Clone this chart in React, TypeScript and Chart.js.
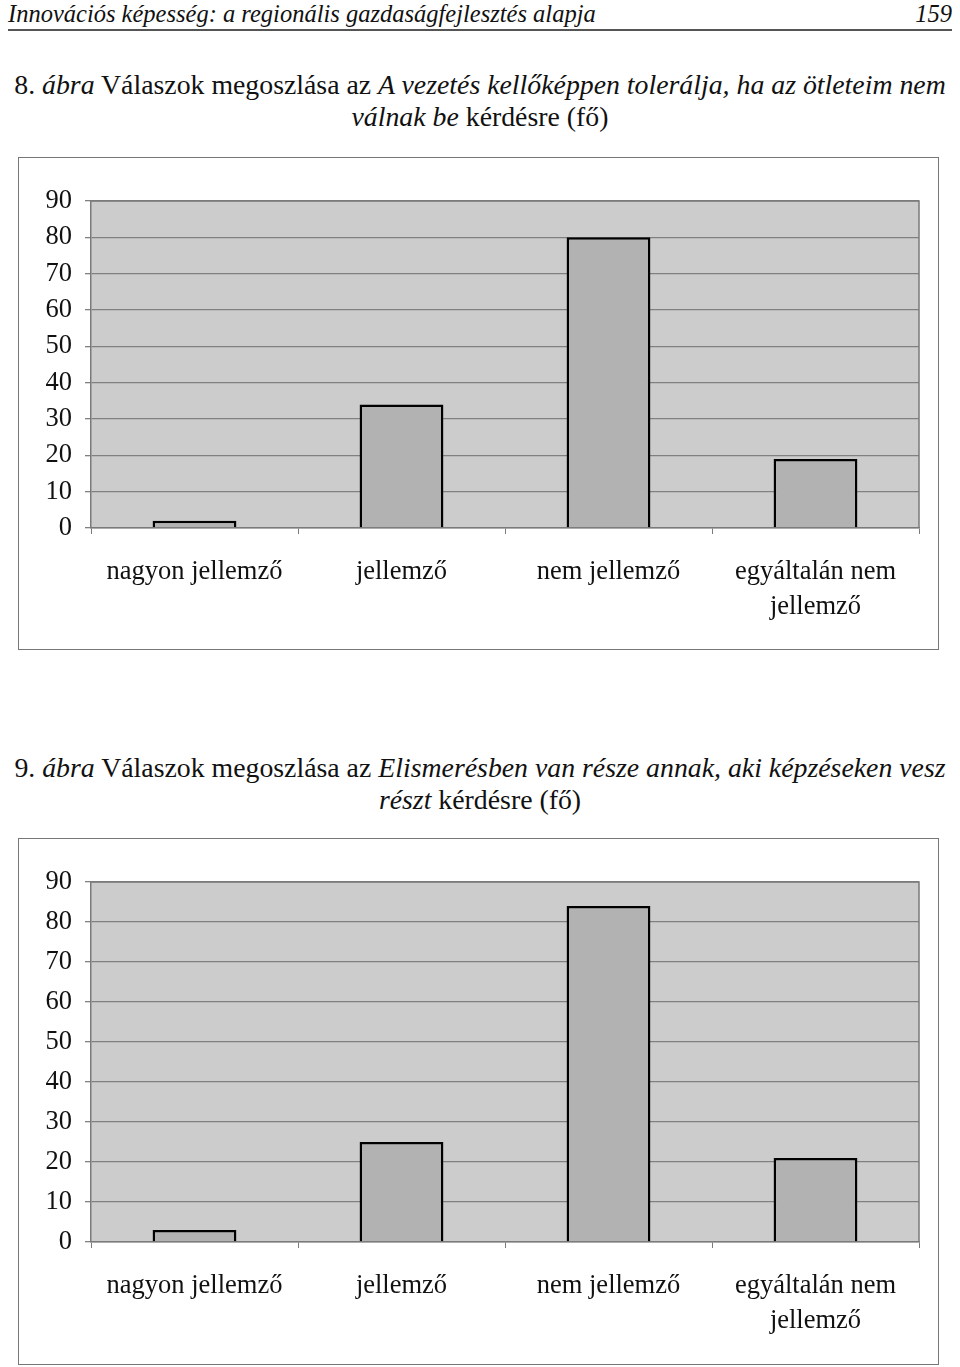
import React, { useEffect, useRef } from "react";
import { Chart, registerables } from "chart.js";

Chart.register(...registerables);

const categories: (string | string[])[] = [
  "nagyon jellemző",
  "jellemző",
  "nem jellemző",
  ["egyáltalán nem", "jellemző"],
];
const chart8Values = [2, 34, 80, 19];
const chart9Values = [3, 25, 84, 21];
const yTickMax = 90;
const yTickStep = 10;

const SERIF = '"Liberation Serif", "Times New Roman", serif';

const plotBgPlugin = {
  id: "plotBg",
  beforeDraw(chart: any) {
    const { ctx, chartArea } = chart;
    if (!chartArea) return;
    ctx.save();
    ctx.fillStyle = "#cccccc";
    ctx.fillRect(chartArea.left, chartArea.top, chartArea.right - chartArea.left, chartArea.bottom - chartArea.top);
    ctx.restore();
  },
  beforeDatasetsDraw(chart: any) {
    const { ctx, chartArea } = chart;
    ctx.save();
    ctx.strokeStyle = "#7a7a7a";
    ctx.lineWidth = 1.5;
    ctx.beginPath();
    ctx.moveTo(chartArea.left, chartArea.top);
    ctx.lineTo(chartArea.right, chartArea.top);
    ctx.lineTo(chartArea.right, chartArea.bottom);
    ctx.stroke();
    ctx.restore();
  },
};

function BarChart({ values, width, height, padTop, xAxisHeight }: { values: number[]; width: number; height: number; padTop: number; xAxisHeight: number }) {
  const ref = useRef<HTMLCanvasElement>(null);
  useEffect(() => {
    if (!ref.current) return;
    const chart = new Chart(ref.current, {
      type: "bar",
      data: {
        labels: categories,
        datasets: [
          {
            data: values,
            backgroundColor: "#b2b2b2",
            borderColor: "#000000",
            borderWidth: 2.5,
            barPercentage: 0.405,
            categoryPercentage: 1,
          },
        ],
      },
      options: {
        animation: false,
        responsive: false,
        maintainAspectRatio: false,
        layout: { padding: { top: padTop, right: 19, bottom: 0, left: 0 } },
        plugins: { legend: { display: false }, tooltip: { enabled: false } },
        scales: {
          x: {
            afterFit: (s: any) => {
              s.height = xAxisHeight;
            },
            grid: {
              offset: true,
              drawOnChartArea: false,
              drawTicks: true,
              tickLength: 6,
              color: "#7a7a7a",
              lineWidth: 1,
            },
            border: { color: "#7a7a7a", width: 1.5 },
            ticks: {
              color: "#111111",
              font: { family: SERIF, size: 26.5, lineHeight: 1.33 },
              padding: 20,
              maxRotation: 0,
              autoSkip: false,
            },
          },
          y: {
            min: 0,
            max: yTickMax,
            afterFit: (s: any) => {
              s.width = 72;
            },
            grid: {
              color: "#808080",
              lineWidth: 1.3,
              drawTicks: true,
              tickLength: 6,
            },
            border: { color: "#7a7a7a", width: 1.5 },
            ticks: {
              stepSize: yTickStep,
              color: "#111111",
              font: { family: SERIF, size: 26.5 },
              padding: 13,
            },
          },
        },
      },
      plugins: [plotBgPlugin],
    });
    return () => chart.destroy();
  }, [values, width, height, padTop, xAxisHeight]);
  return <canvas ref={ref} width={width} height={height} style={{ display: "block", width, height }} />;
}

const textBase: React.CSSProperties = {
  position: "absolute",
  fontFamily: SERIF,
  color: "#111",
  whiteSpace: "nowrap",
};

export default function App() {
  return (
    <div style={{ position: "absolute", left: 0, top: 0, width: 960, height: 1367, background: "#fff", overflow: "hidden" }}>
      <div style={{ ...textBase, left: 8, top: 0, height: 28, lineHeight: "28px", fontSize: 24.5, fontStyle: "italic" }}>
        Innovációs képesség: a regionális gazdaságfejlesztés alapja
      </div>
      <div style={{ ...textBase, right: 8, top: 0, height: 28, lineHeight: "28px", fontSize: 24.5, fontStyle: "italic" }}>159</div>
      <div style={{ position: "absolute", left: 8, top: 29, width: 944, height: 2, background: "#555" }} />

      <div style={{ ...textBase, left: 0, width: 960, top: 69, lineHeight: "32px", fontSize: 27.8, textAlign: "center" }}>
        8. <i>ábra</i> Válaszok megoszlása az <i>A vezetés kellőképpen tolerálja, ha az ötleteim nem</i>
        <br />
        <i>válnak be</i> kérdésre (fő)
      </div>

      <div style={{ position: "absolute", left: 18, top: 157, width: 919, height: 491, border: "1.5px solid #777" }}>
        <BarChart values={chart8Values} width={919} height={491} padTop={43} xAxisHeight={121} />
      </div>

      <div style={{ ...textBase, left: 0, width: 960, top: 752, lineHeight: "32px", fontSize: 27.8, textAlign: "center" }}>
        9. <i>ábra</i> Válaszok megoszlása az <i>Elismerésben van része annak, aki képzéseken vesz</i>
        <br />
        <i>részt</i> kérdésre (fő)
      </div>

      <div style={{ position: "absolute", left: 18, top: 838, width: 919, height: 525, border: "1.5px solid #777" }}>
        <BarChart values={chart9Values} width={919} height={525} padTop={43} xAxisHeight={122} />
      </div>
    </div>
  );
}
